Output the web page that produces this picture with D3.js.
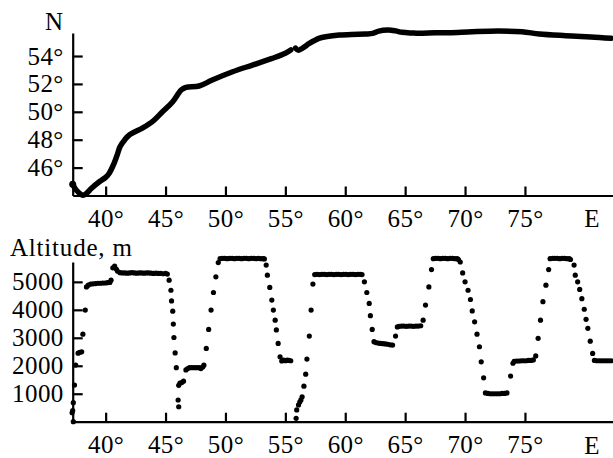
<!DOCTYPE html>
<html><head><meta charset="utf-8">
<script src="https://cdn.jsdelivr.net/npm/d3@7"></script>
<style>
html,body{margin:0;padding:0;background:#fff;}
svg{display:block;}
</style></head>
<body>
<svg id="chart" width="613" height="458"></svg>
<script>
// ---- Data ----
const lonTicks = [40, 45, 50, 55, 60, 65, 70, 75];
const latTicks = [46, 48, 50, 52, 54];
const altTicks = [1000, 2000, 3000, 4000, 5000];

// Route latitude vs longitude (two segments, gap near 55.5°E)
const routeSeg1 = [
  [37.25,44.8],[37.45,44.5],[37.7,44.25],[38.1,44.02],[38.4,44.15],[38.8,44.5],[39.5,45.0],
  [40.0,45.3],[40.3,45.6],[40.7,46.3],[41.0,47.0],[41.2,47.5],[41.6,48.0],[42.0,48.35],
  [43.1,48.85],[43.9,49.3],[44.75,50.0],[45.6,50.72],[46.3,51.56],[46.7,51.76],[47.8,51.85],
  [48.9,52.28],[50.6,52.87],[52.25,53.35],[53.9,53.83],[55.0,54.2],[55.45,54.43]
];
const routeSeg2 = [
  [55.85,54.57],[56.1,54.42],[56.5,54.6],[57.0,54.9],[57.8,55.27],[58.5,55.4],[59.5,55.5],
  [60.5,55.55],[61.7,55.58],[62.3,55.62],[62.8,55.79],[63.6,55.86],[64.2,55.8],[64.75,55.7],
  [65.6,55.65],[66.15,55.63],[67.5,55.66],[68.7,55.67],[70.6,55.74],[72.8,55.79],[74.75,55.74],
  [76.2,55.58],[78.4,55.46],[80.5,55.37],[82.2,55.27]
];

// Altitude samples [longitude, altitude m]
const altitude = [
  [37.3,0],[37.2,320],[37.25,400],[37.3,680],[37.4,1310],[37.5,2025],[37.7,2450],[37.85,2480],[38.0,2500],
  [38.1,3130],[38.3,3990],[38.4,4820],
  [38.55,4880],[38.75,4920],[38.95,4930],[39.15,4940],[39.35,4950],[39.55,4950],[39.75,4960],[39.95,4960],
  [40.15,4970],[40.35,4980],[40.45,5060],
  [40.6,5500],[40.75,5560],[40.9,5450],[41.0,5380],
  [41.2,5330],[41.4,5320],[41.6,5320],[41.8,5310],[42.0,5320],[42.2,5330],[42.4,5320],[42.6,5310],[42.8,5320],
  [43.0,5320],[43.2,5310],[43.4,5320],[43.6,5320],[43.8,5310],[44.0,5300],[44.2,5310],[44.4,5300],[44.6,5300],
  [44.8,5290],[45.0,5300],[45.15,5280],
  [45.3,5060],[45.45,4700],[45.5,4320],[45.6,3950],[45.65,3490],[45.7,3010],[45.8,2460],[45.9,1930],
  [46.05,775],[46.1,535],[46.1,1300],[46.2,1380],[46.35,1400],[46.5,1450],
  [46.7,1850],[46.85,1900],[47.0,1930],[47.2,1930],[47.4,1930],[47.6,1930],[47.8,1930],[47.95,1900],[48.1,1960],[48.2,2020],
  [48.4,2620],[48.6,3300],[48.8,3990],[49.0,4620],[49.2,5180],[49.4,5690],
  [49.55,5830],[49.75,5840],[49.95,5840],[50.15,5830],[50.35,5840],[50.55,5840],[50.75,5830],[50.95,5840],
  [51.15,5840],[51.35,5830],[51.55,5840],[51.75,5840],[51.95,5830],[52.15,5840],[52.35,5840],[52.55,5830],
  [52.75,5840],[52.95,5830],[53.15,5830],[53.25,5820],
  [53.4,5600],[53.5,5240],[53.7,4800],[53.87,4350],[54.0,3990],[54.15,3630],[54.25,3280],[54.4,2800],[54.56,2320],
  [54.7,2170],[54.85,2200],[55.0,2180],[55.15,2200],[55.3,2190],[55.45,2180],
  [55.9,120],[55.95,420],[56.1,600],[56.2,700],[56.3,780],[56.4,890],[56.55,1270],[56.7,1700],[56.8,2240],
  [57.0,3060],[57.15,3990],[57.3,4920],
  [57.45,5260],[57.65,5270],[57.85,5260],[58.05,5270],[58.25,5270],[58.45,5260],[58.65,5270],[58.85,5270],
  [59.05,5260],[59.25,5270],[59.45,5270],[59.65,5260],[59.85,5270],[60.05,5270],[60.25,5260],[60.45,5270],
  [60.65,5270],[60.85,5260],[61.05,5270],[61.25,5270],[61.4,5260],
  [61.6,5000],[61.8,4620],[62.0,4230],[62.1,3790],[62.25,3300],[62.4,2860],
  [62.55,2830],[62.75,2810],[62.95,2800],[63.15,2790],[63.35,2780],[63.55,2770],[63.75,2750],[63.95,2740],
  [64.2,3060],[64.35,3390],
  [64.5,3410],[64.7,3420],[64.9,3420],[65.1,3410],[65.3,3420],[65.5,3420],[65.7,3410],[65.9,3420],[66.1,3420],[66.3,3430],
  [66.5,3630],[66.7,4170],[66.98,4820],[67.2,5440],
  [67.35,5830],[67.55,5840],[67.75,5840],[67.95,5830],[68.15,5840],[68.35,5840],[68.55,5830],[68.75,5840],
  [68.95,5840],[69.15,5830],[69.35,5830],[69.45,5800],
  [69.6,5710],[69.8,5320],[70.0,5000],[70.25,4700],[70.45,4370],[70.6,3960],[70.8,3570],[71.0,3130],
  [71.2,2680],[71.35,2140],[71.55,1570],
  [71.7,1030],[71.9,1010],[72.1,1000],[72.3,1000],[72.5,1000],[72.7,1000],[72.9,1000],[73.1,1010],[73.3,1010],[73.5,1030],
  [73.8,1630],[74.0,2090],
  [74.1,2160],[74.3,2170],[74.5,2170],[74.7,2180],[74.9,2180],[75.1,2180],[75.3,2190],[75.5,2190],[75.7,2210],
  [75.9,2350],[76.1,2980],[76.3,3630],[76.5,4290],[76.75,4880],[76.98,5440],
  [77.1,5830],[77.3,5840],[77.5,5840],[77.7,5840],[77.9,5830],[78.1,5840],[78.3,5840],[78.5,5830],[78.7,5830],[78.8,5800],
  [79.1,5600],[79.2,5240],[79.4,5000],[79.57,4730],[79.75,4400],[79.95,4020],[80.1,3660],[80.25,3340],
  [80.45,2880],[80.65,2440],
  [80.8,2190],[81.0,2180],[81.2,2180],[81.4,2180],[81.6,2180],[81.8,2180],[82.0,2180],[82.2,2180]
];

// ---- Layout ----
const svg = d3.select("#chart");
const FONT = 25;
const FAM = '"Liberation Serif"';
const x = d3.scaleLinear().domain([37.25, 82.35]).range([72.7, 613]);
const yTop = d3.scaleLinear().domain([44, 55.65]).range([195.5, 33]);
const yBot = d3.scaleLinear().domain([0, 5710]).range([421.7, 262]);

function styleAxis(g){
  g.attr("font-family", null).attr("font-size", null);
  g.selectAll("path.domain").attr("stroke","#000").attr("stroke-width",2.2);
  g.selectAll(".tick line").attr("stroke","#000").attr("stroke-width",2.2);
  g.selectAll(".tick text").style("font-family",FAM).style("font-size",FONT+"px")
    .style("letter-spacing","0.4px").attr("fill","#000");
}

function drawPanel(yScale, yTicks, yFmt, axisY){
  const gx = svg.append("g").attr("transform",`translate(0,${axisY})`)
    .call(d3.axisBottom(x).tickValues(lonTicks).tickFormat(d=>d+"°").tickSizeInner(-9).tickSizeOuter(0).tickPadding(14));
  styleAxis(gx);
  const gy = svg.append("g").attr("transform",`translate(${x.range()[0]},0)`)
    .call(d3.axisLeft(yScale).tickValues(yTicks).tickFormat(yFmt).tickSizeInner(-10).tickSizeOuter(0).tickPadding(9));
  styleAxis(gy);
}

function label(xp, yp, txt, anchor, ls){
  return svg.append("text").attr("x",xp).attr("y",yp).attr("text-anchor",anchor||"start")
    .style("font-family",FAM).style("font-size",FONT+"px").style("letter-spacing",(ls||0)+"px")
    .attr("fill","#000").text(txt);
}

// Top panel
drawPanel(yTop, latTicks, d=>d+"°", yTop(44));
const line = d3.line().x(d=>x(d[0])).y(d=>yTop(d[1])).curve(d3.curveCatmullRom);
[routeSeg1, routeSeg2].forEach(seg=>{
  svg.append("path").datum(seg).attr("d",line).attr("fill","none")
    .attr("stroke","#000").attr("stroke-width",5.5).attr("stroke-linecap","round").attr("stroke-linejoin","round");
});
svg.append("circle").attr("cx",x(routeSeg1[0][0])).attr("cy",yTop(routeSeg1[0][1])).attr("r",3.5).attr("fill","#000");
label(54, 30, "N", "middle");
label(592, 227, "E", "middle");

// Bottom panel
drawPanel(yBot, altTicks, d=>d, yBot(0));
svg.append("g").selectAll("circle").data(altitude).join("circle")
  .attr("cx",d=>x(d[0])).attr("cy",d=>yBot(d[1])).attr("r",2.6).attr("fill","#000");
label(10, 256, "Altitude, m", "start", 0.8);
label(592, 454, "E", "middle");
</script>
</body></html>
